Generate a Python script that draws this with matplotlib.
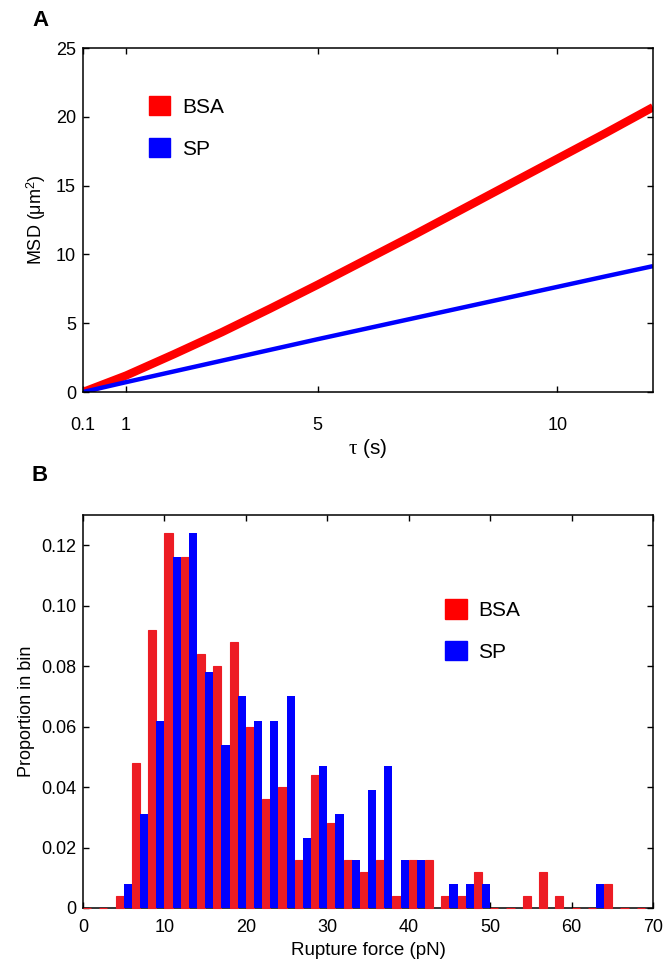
import numpy as np
import matplotlib
matplotlib.use("Agg")
import matplotlib.pyplot as plt
import matplotlib.patches as mpatches

plt.rcParams["font.family"] = ["Liberation Sans", "DejaVu Sans"]
plt.rcParams["mathtext.fontset"] = "custom"
plt.rcParams["mathtext.rm"] = "Liberation Sans"
plt.rcParams["mathtext.it"] = "Liberation Serif"

# panel A: mean squared displacement
tau = [0.1, 1, 2, 3, 4, 5, 6, 7, 8, 9, 10, 11, 12]
msd_bsa = [0, 1.2, 2.75, 4.35, 6.05, 7.8, 9.6, 11.4, 13.25, 15.1, 16.95, 18.8, 20.7]
msd_sp = [0, 0.72, 1.5, 2.28, 3.06, 3.84, 4.6, 5.36, 6.12, 6.88, 7.64, 8.4, 9.15]
tau_ticks = [0.1, 1, 5, 10]
tau_ticklabels = ["0.1", "1", "5", "10"]

# panel B: rupture force histograms (2 pN bins, left edge of each bin)
bin_left = np.arange(0, 70, 2)
prop_bsa = [0, 0, 0.004, 0.048, 0.092, 0.124, 0.116, 0.084, 0.080, 0.088,
            0.060, 0.036, 0.040, 0.016, 0.044, 0.028, 0.016, 0.012, 0.016, 0.004,
            0.016, 0.016, 0.004, 0.004, 0.012, 0, 0, 0.004, 0.012, 0.004,
            0, 0, 0.008, 0, 0]
prop_sp = [0, 0, 0.008, 0.031, 0.062, 0.116, 0.124, 0.078, 0.054, 0.070,
           0.062, 0.062, 0.070, 0.023, 0.047, 0.031, 0.016, 0.039, 0.047, 0.016,
           0.016, 0, 0.008, 0.008, 0.008, 0, 0, 0, 0, 0,
           0, 0.008, 0, 0, 0]

red_line = "#ff0000"
blue_line = "#0000ff"
red_bar = "#ed1c24"
blue_bar = "#0000ff"

fig = plt.figure(figsize=(6.66, 9.68), dpi=100)
ax1 = fig.add_axes([0.1246, 0.595, 0.8559, 0.3554])
ax2 = fig.add_axes([0.1246, 0.062, 0.8559, 0.406])

for ax in (ax1, ax2):
    ax.tick_params(direction="in", top=True, right=True, length=4, width=1,
                   labelsize=13, pad=5)
    for sp in ax.spines.values():
        sp.set_linewidth(1.1)

# --- A ---
ax1.plot(tau, msd_bsa, color=red_line, lw=6, solid_capstyle="butt")
ax1.plot(tau, msd_sp, color=blue_line, lw=3.2, solid_capstyle="butt")
ax1.set_xlim(0.1, 12)
ax1.set_ylim(0, 25)
ax1.set_xticks(tau_ticks)
ax1.set_xticklabels(tau_ticklabels)
ax1.set_yticks([0, 5, 10, 15, 20, 25])
ax1.tick_params(axis="x", pad=18)
ax1.set_xlabel(r"$\tau$ (s)", fontsize=15, labelpad=2)
ax1.set_ylabel(r"MSD (μm$^2$)", fontsize=13, labelpad=6)

h1 = [mpatches.Patch(color=red_line, label="BSA"),
      mpatches.Patch(color=blue_line, label="SP")]
ax1.legend(handles=h1, loc="upper left", bbox_to_anchor=(0.115, 0.86),
           frameon=False, fontsize=15, handlelength=1.05, handleheight=1.05,
           handletextpad=0.55, labelspacing=1.0, borderpad=0, borderaxespad=0)

# --- B ---
# zero-height bins still leave a thin red edge on the baseline
ax2.bar(bin_left, prop_bsa, width=1, align="edge", color=red_bar,
        edgecolor=red_bar, linewidth=0.8, zorder=3, clip_on=False)
ax2.bar(bin_left + 1, prop_sp, width=1, align="edge", color=blue_bar,
        linewidth=0, zorder=3)
ax2.set_xlim(0, 70)
ax2.set_ylim(0, 0.13)
ax2.set_xticks(range(0, 71, 10))
ax2.set_yticks([0, 0.02, 0.04, 0.06, 0.08, 0.10, 0.12])
ax2.set_yticklabels(["0", "0.02", "0.04", "0.06", "0.08", "0.10", "0.12"])
ax2.tick_params(axis="x", pad=8)
ax2.set_xlabel("Rupture force (pN)", fontsize=13.5, labelpad=4)
ax2.set_ylabel("Proportion in bin", fontsize=13, labelpad=4)

h2 = [mpatches.Patch(color=red_line, label="BSA"),
      mpatches.Patch(color=blue_bar, label="SP")]
ax2.legend(handles=h2, loc="upper left", bbox_to_anchor=(0.635, 0.785),
           frameon=False, fontsize=15, handlelength=1.05, handleheight=1.05,
           handletextpad=0.55, labelspacing=1.0, borderpad=0, borderaxespad=0)

fig.text(0.048, 0.99, "A", fontsize=16, fontweight="bold", va="top")
fig.text(0.048, 0.52, "B", fontsize=16, fontweight="bold", va="top")

fig.savefig("out.png", dpi=100)
